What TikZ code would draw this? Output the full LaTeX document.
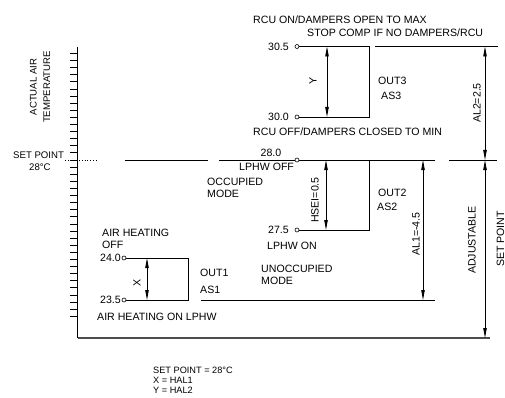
\documentclass[tikz,border=0pt]{standalone}
\usepackage{fontspec}
\setmainfont{Liberation Sans}
\usetikzlibrary{arrows.meta}
\begin{document}
\begin{tikzpicture}[x=1pt,y=-1pt,
  lbl/.style={font=\fontsize{10.6}{11}\selectfont, inner sep=0pt},
  sml/.style={font=\fontsize{9.6}{13.5}\selectfont, inner sep=0pt},
  ln/.style={line width=0.8pt},
  dim/.style={line width=0.8pt, {Triangle[length=10pt,width=3.4pt]}-{Triangle[length=10pt,width=3.4pt]}},
  pin/.style={circle, draw, line width=0.6pt, inner sep=0pt, minimum size=4pt, fill=white}
]
\useasboundingbox (0,0) rectangle (505,398);

% axis
\coordinate (axtop) at (77.5,47);
\coordinate (axcorner) at (77.5,338);
\coordinate (axend) at (490,338);
\draw[line width=1.3pt] (axtop) -- (axcorner);
\draw[line width=1.8pt, black!70] (axcorner) -- (axend);
\foreach \k in {-15,...,22} {
  \draw[line width=0.8pt] (70,160+7.1*\k) -- (77.5,160+7.1*\k);
}

% set point dotted line
\coordinate (dotA) at (65,160);
\coordinate (dotB) at (97,160);
\draw[line width=0.8pt, dotted] (dotA) -- (dotB);

% lines at setpoint 28.0
\coordinate (spA) at (125,160);
\coordinate (spB) at (208,160);
\draw[ln] (spA) -- (spB);
\coordinate (spC) at (219,160);
\coordinate (spD) at (435,160);
\draw[ln] (spC) -- (spD);
\coordinate (spE) at (449,160);
\coordinate (spF) at (497,160);
\draw[ln] (spE) -- (spF);

% OUT3 box
\coordinate (b3tr) at (369,46.5);
\coordinate (b3br) at (369,117);
\draw[ln] (297,46.5) -- (b3tr) -- (b3br) -- (297,117);
\node[pin] (p305) at (297,46.5) {};
\node[pin] (p300) at (297,117) {};
\coordinate (yA) at (327,46.5);
\coordinate (yB) at (327,117);
\draw[dim] (yA) -- (yB);
\coordinate (topA) at (375,46.5);
\coordinate (topB) at (498,46.5);
\draw[ln] (topA) -- (topB);

% right arrows
\coordinate (al2A) at (485,46.5);
\coordinate (al2B) at (485,160);
\coordinate (adjB) at (485,338);
\draw[dim] (al2A) -- (al2B);
\draw[dim] (al2B) -- (adjB);

% OUT2 box
\coordinate (b2tr) at (369,160);
\coordinate (b2br) at (369,230);
\draw[ln] (b2tr) -- (b2br) -- (297,230);
\node[pin] (p280) at (297,160) {};
\node[pin] (p275) at (297,230) {};
\coordinate (hA) at (326,160);
\coordinate (hB) at (326,230);
\draw[dim] (hA) -- (hB);

% AL1
\coordinate (al1A) at (423,160);
\coordinate (al1B) at (423,300);
\draw[dim] (al1A) -- (al1B);
\coordinate (unA) at (201,300);
\coordinate (unB) at (435,300);
\draw[ln] (unA) -- (unB);

% OUT1 box
\coordinate (b1tr) at (188,258);
\coordinate (b1br) at (188,300);
\draw[ln] (124,258) -- (b1tr) -- (b1br) -- (124,300);
\node[pin] (p240) at (124,258) {};
\node[pin] (p235) at (124,300) {};
\coordinate (xA) at (147,258);
\coordinate (xB) at (147,300);
\draw[dim] (xA) -- (xB);

% texts
\node[lbl, anchor=west] (t1) at (253,20) {RCU ON/DAMPERS OPEN TO MAX};
\node[lbl, anchor=west] (t2) at (307,33) {STOP COMP IF NO DAMPERS/RCU};
\node[lbl, anchor=east] (t305) at (289,46.5) {30.5};
\node[lbl, anchor=east] (t300) at (289,117) {30.0};
\node[lbl, anchor=west] (t3) at (253,132) {RCU OFF/DAMPERS CLOSED TO MIN};
\node[lbl, rotate=90] (ty) at (313,81) {Y};
\node[lbl, anchor=west] (out3) at (378,81) {OUT3};
\node[lbl, anchor=west] (as3) at (381,96) {AS3};
\node[lbl, rotate=90] (al2) at (477,103) {AL2=2.5};

\node[lbl] (t280) at (271,153) {28.0};
\node[lbl, anchor=west] (lphwoff) at (239,167) {LPHW OFF};
\node[lbl, anchor=west] (occ) at (207,182) {OCCUPIED};
\node[lbl, anchor=west] (occm) at (207,193.5) {MODE};
\node[lbl, rotate=90] (hsei) at (315,200) {HSEI=0.5};
\node[lbl, anchor=east] (t275) at (289,230) {27.5};
\node[lbl, anchor=west] (lphwon) at (267,246) {LPHW ON};
\node[lbl, anchor=west] (out2) at (378,193) {OUT2};
\node[lbl, anchor=west] (as2) at (377,207) {AS2};
\node[lbl, rotate=90] (al1) at (416,234) {AL1=-4.5};
\node[lbl, anchor=west] (unocc) at (261,269) {UNOCCUPIED};
\node[lbl, anchor=west] (unoccm) at (261,281) {MODE};
\node[lbl, rotate=90] (adj) at (472,240) {ADJUSTABLE};
\node[lbl, rotate=90] (spt) at (500.5,239) {SET POINT};

\node[lbl, anchor=west] (aho) at (102,233) {AIR HEATING};
\node[lbl, anchor=west] (ahoff) at (102,244.5) {OFF};
\node[lbl, anchor=east] (t240) at (121,258) {24.0};
\node[lbl, anchor=east] (t235) at (121,300) {23.5};
\node[lbl, rotate=90] (tx) at (137,283) {X};
\node[lbl, anchor=west] (out1) at (200,273) {OUT1};
\node[lbl, anchor=west] (as1) at (200,290) {AS1};
\node[lbl, anchor=west] (ahon) at (97,317) {AIR HEATING ON LPHW};

\node[sml, anchor=west] (sp1) at (13,155) {SET POINT};
\node[sml, anchor=west] (sp2) at (29,167) {28°C};
\node[sml, rotate=90, align=center] (aat) at (40,87) {ACTUAL AIR\\TEMPERATURE};

\node[inner sep=0pt, anchor=north west, align=left, font=\fontsize{9.2}{10}\selectfont] (legend) at (153,367) {SET POINT = 28°C\\X = HAL1\\Y = HAL2};
\end{tikzpicture}
\end{document}
